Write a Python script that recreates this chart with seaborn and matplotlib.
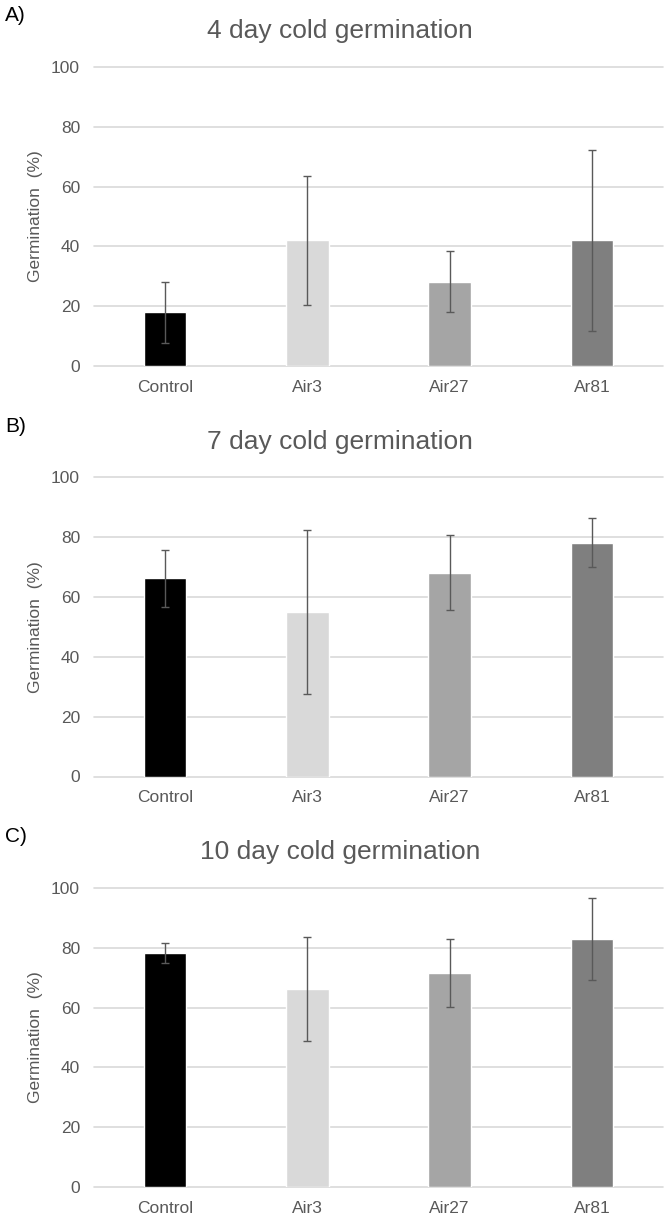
import numpy as np
import pandas as pd
import matplotlib
matplotlib.use("Agg")
import matplotlib.pyplot as plt
import seaborn as sns

# --- Data ---
categories = ["Control", "Air3", "Air27", "Ar81"]
bar_colors = ["#000000", "#d9d9d9", "#a5a5a5", "#7f7f7f"]

mean_4d = [17.9, 42.0, 28.2, 42.0]
sd_4d = [10.2, 21.5, 10.3, 30.3]
mean_7d = [66.3, 55.0, 68.2, 78.2]
sd_7d = [9.6, 27.5, 12.6, 8.2]
mean_10d = [78.2, 66.3, 71.6, 83.0]
sd_10d = [3.3, 17.4, 11.4, 13.8]

panel_letters = ["A)", "B)", "C)"]
panel_titles = ["4 day cold germination", "7 day cold germination", "10 day cold germination"]
y_ticks = [0, 20, 40, 60, 80, 100]
y_label = "Germination  (%)"

panels = [(mean_4d, sd_4d), (mean_7d, sd_7d), (mean_10d, sd_10d)]

# --- Style ---
sns.set_theme(style="white")
plt.rcParams["font.family"] = ["Liberation Sans", "DejaVu Sans"]
text_grey = "#595959"
grid_grey = "#d9d9d9"

W, H = 666, 1215
fig = plt.figure(figsize=(W / 100, H / 100), dpi=100)
fig.patch.set_facecolor("white")

panel_step = 410.5  # vertical distance between panels, px

for i, (means, sds) in enumerate(panels):
    off = i * panel_step
    ax_top = 67 + off
    ax_bottom = 366 + off
    ax = fig.add_axes([94 / W, 1 - ax_bottom / H, 569 / W, (ax_bottom - ax_top) / H])

    df = pd.DataFrame({"treatment": categories, "germination": means})
    sns.barplot(data=df, x="treatment", y="germination", hue="treatment",
                palette=bar_colors, width=0.3, saturation=1, errorbar=None,
                legend=False, ax=ax, zorder=2)
    xpos = np.arange(len(categories))
    ax.errorbar(xpos, means, yerr=sds, fmt="none", ecolor=text_grey,
                elinewidth=1.0, capsize=3.2, capthick=1.0, zorder=3)

    ax.set_ylim(0, 100)
    ax.set_yticks(y_ticks)
    ax.set_xlim(-0.5, len(categories) - 0.5)
    ax.grid(axis="y", color=grid_grey, linewidth=1.2)
    ax.grid(axis="x", visible=False)
    for gl in ax.get_ygridlines():
        gl.set_clip_on(False)
    ax.set_axisbelow(True)
    for side in ["top", "right", "left", "bottom"]:
        ax.spines[side].set_visible(False)
    ax.tick_params(axis="both", length=0, labelsize=12.5, labelcolor=text_grey, pad=10)

    ax.set_xlabel("")
    ax.set_ylabel(y_label, fontsize=12.5, color=text_grey)
    ax.yaxis.set_label_coords(-0.09, 0.5)

    fig.text(340 / W, 1 - (38 + off) / H, panel_titles[i], ha="center", va="baseline",
             fontsize=19, color=text_grey)
    fig.text(5 / W, 1 - (21 + off) / H, panel_letters[i], ha="left", va="baseline",
             fontsize=15, color="black")

fig.savefig("out.png", dpi=100, facecolor="white")
